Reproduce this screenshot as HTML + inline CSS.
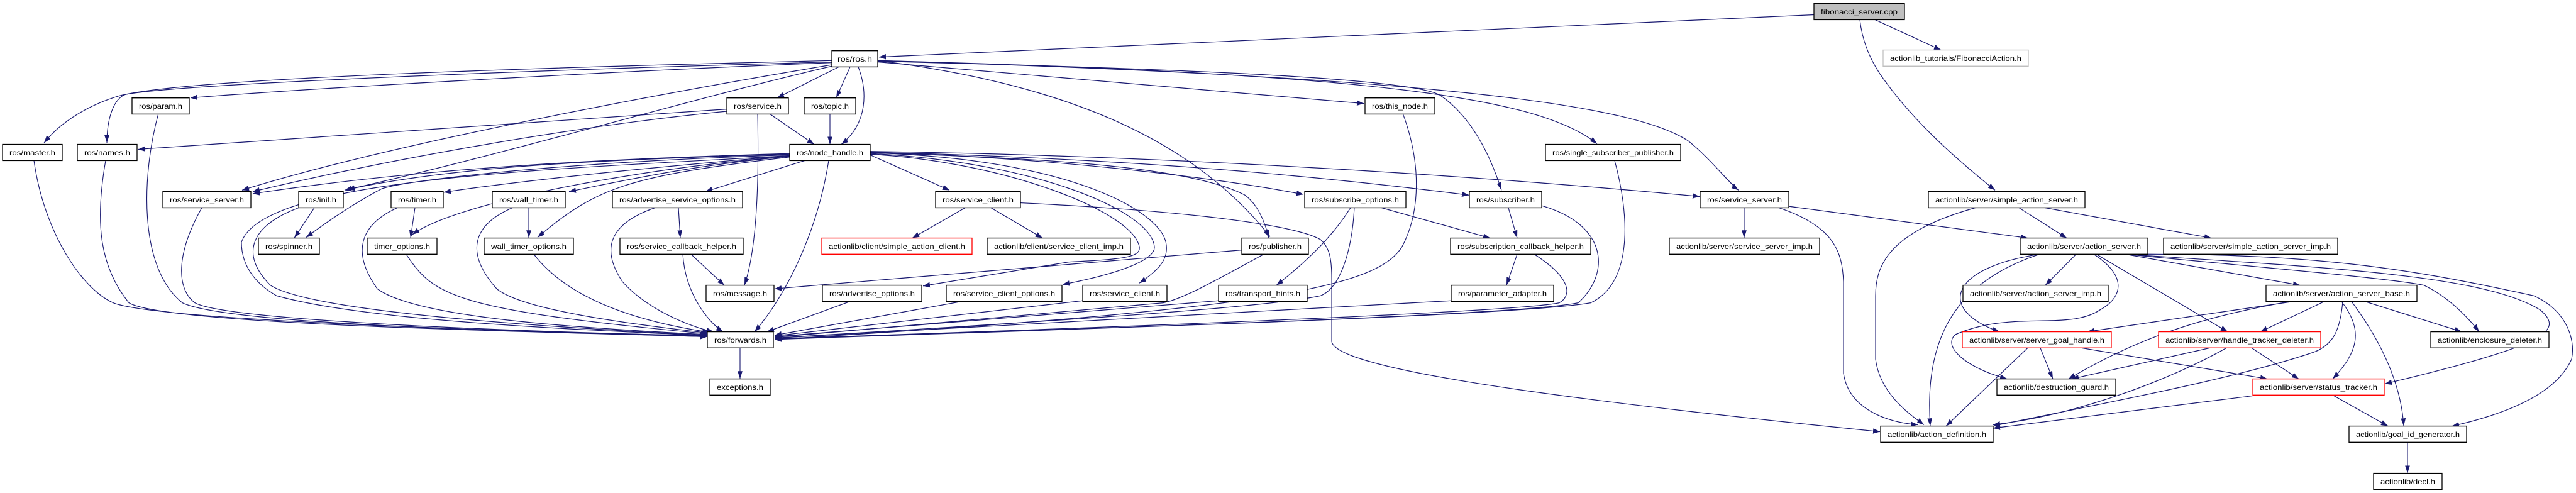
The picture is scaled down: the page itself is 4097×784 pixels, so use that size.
<!DOCTYPE html>
<html><head><meta charset="utf-8"><style>
html,body{margin:0;padding:0;background:#fff;width:4097px;height:784px;overflow:hidden}
svg{display:block}
text{font-family:"Liberation Sans",sans-serif;font-size:12px;fill:#000;text-anchor:middle}
</style></head><body>
<svg width="4097" height="784" viewBox="0 0 4097 784" xmlns="http://www.w3.org/2000/svg">
<defs>
<marker id="a" viewBox="0 0 10 7" refX="10" refY="3.5" markerWidth="11" markerHeight="8" markerUnits="userSpaceOnUse" orient="auto"><path d="M0,0L10,3.5L0,7z" fill="#191970"/></marker>
</defs>
<g transform="scale(1,1.12)">
<g fill="none" stroke="#191970" stroke-width="1.1" marker-end="url(#a)" vector-effect="non-scaling-stroke">
<!-- fib -->
<path d="M2885,21L1398,81"/>
<path d="M2982,28L3087,71"/>
<path d="M2958,28C2962,60 2975,85 2990,105C3040,170 3110,225 3173,270"/>
<!-- ros.h -->
<path d="M1323,86C900,95 300,110 190,136C130,152 90,180 70,203"/>
<path d="M1323,88C900,98 300,118 200,134C180,140 170,170 170,203"/>
<path d="M1323,89C1000,100 500,125 303,139"/>
<path d="M1334,95L1236,139"/>
<path d="M1352,95L1330,139"/>
<path d="M1365,95C1380,130 1380,175 1338,205"/>
<path d="M1323,92C1000,140 600,210 385,270"/>
<path d="M1323,94C1100,140 800,220 553,269"/>
<path d="M1396,86C1700,120 1900,200 2020,336"/>
<path d="M1396,88L2169,147"/>
<path d="M1396,87C2000,100 2250,115 2290,135C2340,165 2370,220 2388,270"/>
<path d="M1396,86C2200,105 2450,140 2540,204"/>
<path d="M1396,86C2300,110 2600,150 2685,200C2720,225 2750,260 2765,270"/>
<!-- service.h, topic -->
<path d="M1156,155L220,212"/>
<path d="M1156,158C900,180 600,230 402,272"/>
<path d="M1223,161L1295,205"/>
<path d="M1205,161C1207,250 1205,350 1184,405"/>
<path d="M1320,161L1320,205"/>
<!-- node_handle left -->
<path d="M1256,218C1000,225 700,235 402,275"/>
<path d="M1256,219C900,228 700,240 548,270"/>
<path d="M1256,220C900,230 650,255 607,268C560,290 520,315 487,337"/>
<path d="M1256,221C1000,240 800,260 706,273"/>
<path d="M1256,222C1100,235 1000,255 905,272"/>
<path d="M1256,222C1000,240 720,290 656,333"/>
<path d="M1256,223C1000,250 950,265 855,337"/>
<path d="M1280,228L1122,272"/>
<path d="M1318,228C1300,330 1250,420 1200,471"/>
<path d="M1256,221C900,240 420,250 384,344C384,380 410,405 440,420C600,460 1000,470 1125,477" marker-end=""/>
<!-- node_handle right -->
<path d="M1384,220L1510,270"/>
<path d="M1384,219C1600,230 1800,300 1812,350C1815,365 1790,368 1700,372L1468,406"/>
<path d="M1384,218C1650,230 1830,300 1836,350C1838,365 1800,385 1690,404"/>
<path d="M1384,217C1700,225 1850,300 1855,348C1858,370 1840,385 1812,402"/>
<path d="M1384,217C1700,225 1900,240 1980,277C2000,290 2012,315 2018,338"/>
<path d="M1384,216C1700,225 1950,255 2073,276"/>
<path d="M1384,216C1800,225 2100,250 2336,277"/>
<path d="M1384,215C1800,220 2300,245 2703,279"/>
<!-- left to forwards -->
<path d="M54,228C70,330 130,410 180,430C250,455 800,470 1125,478"/>
<path d="M168,228C150,320 160,380 205,430C260,460 800,470 1125,478"/>
<path d="M252,161C225,250 220,380 290,430C360,460 800,470 1125,477"/>
<path d="M321,295C280,360 280,410 310,430C360,455 800,470 1125,477"/>
<path d="M475,295C400,320 380,360 430,405C500,445 900,466 1125,476"/>
<path d="M500,295L468,338"/>
<path d="M660,295L653,338"/>
<path d="M632,295C570,320 560,360 600,410C660,450 900,465 1126,475"/>
<path d="M646,361C690,420 720,440 1126,474"/>
<path d="M841,295L841,338"/>
<path d="M815,295C750,320 740,360 790,410C830,440 1000,460 1128,473"/>
<path d="M849,361C900,420 1000,455 1130,472"/>
<path d="M1079,295L1082,338"/>
<path d="M1042,295C960,320 960,360 990,400C1030,440 1100,465 1135,471"/>
<path d="M1099,361L1152,405"/>
<path d="M1086,361C1090,420 1130,460 1150,471"/>
<path d="M1177,494L1177,538"/>
<!-- service_client.h -->
<path d="M1535,295L1451,338"/>
<path d="M1576,295L1658,338"/>
<path d="M1623,288C1900,300 2060,320 2100,340C2120,355 2118,380 2118,420L2118,485C2125,520 2400,560 2990,613"/>
<!-- right side to forwards -->
<path d="M1352,428L1220,471"/>
<path d="M1530,428L1232,476"/>
<path d="M1722,427L1232,477"/>
<path d="M1938,427L1232,478"/>
<path d="M2010,361C1930,400 1880,425 1850,430L1232,479"/>
<path d="M1975,355L1232,410"/>
<path d="M2148,295C2120,335 2080,370 2030,405"/>
<path d="M2154,295C2150,360 2130,410 2100,420C2000,440 1500,465 1232,480"/>
<path d="M2197,295L2370,338"/>
<path d="M2399,295L2413,338"/>
<path d="M2452,292C2560,320 2560,390 2510,430C2400,450 1600,470 1232,481"/>
<path d="M2413,361L2396,405"/>
<path d="M2440,361C2500,395 2500,420 2480,430C2400,445 1600,470 1232,481"/>
<path d="M2308,427L1232,480"/>
<path d="M2231,161C2260,230 2260,300 2230,350C2190,410 2000,440 1232,482"/>
<path d="M2568,228C2590,300 2600,400 2530,430C2400,450 1600,470 1232,482"/>
<!-- service_server right -->
<path d="M2774,295L2774,338"/>
<path d="M2822,293C2920,320 2930,360 2932,400L2932,530C2940,580 3000,600 3050,603"/>
<path d="M2845,293L3225,338"/>
<!-- simple_action_server -->
<path d="M3142,295C3000,330 2983,380 2983,420L2983,510C2990,560 3040,590 3060,603"/>
<path d="M3211,295L3287,338"/>
<path d="M3252,295L3517,338"/>
<!-- action_server -->
<path d="M3302,361L3253,405"/>
<path d="M3244,361C3100,380 3080,440 3180,471"/>
<path d="M3244,361C3110,400 3060,480 3070,605"/>
<path d="M3330,361C3380,390 3380,420 3340,440C3290,470 3200,440 3110,475C3090,490 3120,520 3192,538"/>
<path d="M3334,361L3543,471"/>
<path d="M3380,361L3658,405"/>
<path d="M3380,361C3600,380 3800,395 3855,405C3890,420 3920,445 3943,471"/>
<path d="M3380,361C3700,380 3950,390 4040,440C4080,470 4050,490 3793,545"/>
<path d="M3400,361C3700,360 3850,385 4030,420C4080,440 4097,480 4090,510C4060,570 3950,595 3900,605"/>
<!-- action_server_base -->
<path d="M3697,428L3595,471"/>
<path d="M3761,428L3915,471"/>
<path d="M3724,428C3760,470 3750,500 3710,538"/>
<path d="M3740,428C3800,500 3820,560 3823,605"/>
<path d="M3648,428L3320,471"/>
<path d="M3643,428C3500,450 3400,480 3290,538"/>
<path d="M3726,428C3722,470 3710,490 3680,500C3550,540 3300,580 3170,605"/>
<!-- goal handle etc -->
<path d="M3245,494L3265,538"/>
<path d="M3225,494L3095,605"/>
<path d="M3310,494L3606,538"/>
<path d="M3515,494L3295,538"/>
<path d="M3541,494C3450,540 3300,590 3170,603"/>
<path d="M3581,494L3656,538"/>
<path d="M3592,561L3170,608"/>
<path d="M3710,561L3798,605"/>
<path d="M3829,628L3829,672"/>
</g>
<g stroke-width="1.3" fill="#fff" stroke="#000" vector-effect="non-scaling-stroke">
<rect x="2885" y="5" width="144" height="23" fill="#bfbfbf"/>
<rect x="1323" y="72" width="73" height="23"/>
<rect x="2995" y="71" width="231" height="23" stroke="#bfbfbf"/>
<rect x="210" y="139" width="91" height="23"/>
<rect x="1156" y="139" width="98" height="23"/>
<rect x="1279" y="139" width="82" height="23"/>
<rect x="2171" y="139" width="111" height="23"/>
<rect x="4" y="205" width="95" height="23"/>
<rect x="123" y="205" width="95" height="23"/>
<rect x="1256" y="205" width="128" height="23"/>
<rect x="2458" y="205" width="215" height="23"/>
<rect x="259" y="272" width="140" height="23"/>
<rect x="475" y="272" width="71" height="23"/>
<rect x="622" y="272" width="83" height="23"/>
<rect x="783" y="272" width="116" height="23"/>
<rect x="974" y="272" width="207" height="23"/>
<rect x="1488" y="272" width="135" height="23"/>
<rect x="2075" y="272" width="161" height="23"/>
<rect x="2337" y="272" width="115" height="23"/>
<rect x="2704" y="272" width="141" height="23"/>
<rect x="3067" y="272" width="249" height="23"/>
<rect x="411" y="338" width="97" height="23"/>
<rect x="584" y="338" width="111" height="23"/>
<rect x="770" y="338" width="142" height="23"/>
<rect x="986" y="338" width="196" height="23"/>
<rect x="1307" y="338" width="239" height="23" stroke="#f00"/>
<rect x="1570" y="338" width="228" height="23"/>
<rect x="1975" y="338" width="106" height="23"/>
<rect x="2307" y="338" width="223" height="23"/>
<rect x="2655" y="338" width="239" height="23"/>
<rect x="3213" y="338" width="203" height="23"/>
<rect x="3441" y="338" width="277" height="23"/>
<rect x="1123" y="405" width="108" height="23"/>
<rect x="1308" y="405" width="158" height="23"/>
<rect x="1505" y="405" width="184" height="23"/>
<rect x="1722" y="405" width="134" height="23"/>
<rect x="1938" y="405" width="141" height="23"/>
<rect x="2308" y="405" width="163" height="23"/>
<rect x="3122" y="405" width="231" height="23"/>
<rect x="3604" y="405" width="240" height="23"/>
<rect x="1125" y="471" width="105" height="23"/>
<rect x="3121" y="471" width="237" height="23" stroke="#f00"/>
<rect x="3433" y="471" width="258" height="23" stroke="#f00"/>
<rect x="3866" y="471" width="188" height="23"/>
<rect x="1129" y="538" width="96" height="23"/>
<rect x="3176" y="538" width="189" height="23"/>
<rect x="3583" y="538" width="209" height="23" stroke="#f00"/>
<rect x="2991" y="605" width="179" height="23"/>
<rect x="3736" y="605" width="187" height="23"/>
<rect x="3775" y="672" width="109" height="23"/>
</g>
</g>
<g lengthAdjust="spacingAndGlyphs">
<text x="2957" y="23" textLength="122" lengthAdjust="spacingAndGlyphs">fibonacci_server.cpp</text>
<text x="1359.5" y="98" textLength="55" lengthAdjust="spacingAndGlyphs">ros/ros.h</text>
<text x="3110.5" y="97" textLength="209" lengthAdjust="spacingAndGlyphs">actionlib_tutorials/FibonacciAction.h</text>
<text x="255.5" y="173" textLength="69" lengthAdjust="spacingAndGlyphs">ros/param.h</text>
<text x="1205" y="173" textLength="76" lengthAdjust="spacingAndGlyphs">ros/service.h</text>
<text x="1320" y="173" textLength="60" lengthAdjust="spacingAndGlyphs">ros/topic.h</text>
<text x="2226.5" y="173" textLength="89" lengthAdjust="spacingAndGlyphs">ros/this_node.h</text>
<text x="51.5" y="247" textLength="73" lengthAdjust="spacingAndGlyphs">ros/master.h</text>
<text x="170.5" y="247" textLength="73" lengthAdjust="spacingAndGlyphs">ros/names.h</text>
<text x="1320" y="247" textLength="106" lengthAdjust="spacingAndGlyphs">ros/node_handle.h</text>
<text x="2565.5" y="247" textLength="193" lengthAdjust="spacingAndGlyphs">ros/single_subscriber_publisher.h</text>
<text x="329" y="322" textLength="118" lengthAdjust="spacingAndGlyphs">ros/service_server.h</text>
<text x="510.5" y="322" textLength="49" lengthAdjust="spacingAndGlyphs">ros/init.h</text>
<text x="663.5" y="322" textLength="61" lengthAdjust="spacingAndGlyphs">ros/timer.h</text>
<text x="841" y="322" textLength="94" lengthAdjust="spacingAndGlyphs">ros/wall_timer.h</text>
<text x="1077.5" y="322" textLength="185" lengthAdjust="spacingAndGlyphs">ros/advertise_service_options.h</text>
<text x="1555.5" y="322" textLength="113" lengthAdjust="spacingAndGlyphs">ros/service_client.h</text>
<text x="2155.5" y="322" textLength="139" lengthAdjust="spacingAndGlyphs">ros/subscribe_options.h</text>
<text x="2394.5" y="322" textLength="93" lengthAdjust="spacingAndGlyphs">ros/subscriber.h</text>
<text x="2774.5" y="322" textLength="119" lengthAdjust="spacingAndGlyphs">ros/service_server.h</text>
<text x="3191.5" y="322" textLength="227" lengthAdjust="spacingAndGlyphs">actionlib/server/simple_action_server.h</text>
<text x="459.5" y="396" textLength="75" lengthAdjust="spacingAndGlyphs">ros/spinner.h</text>
<text x="639.5" y="396" textLength="89" lengthAdjust="spacingAndGlyphs">timer_options.h</text>
<text x="841" y="396" textLength="120" lengthAdjust="spacingAndGlyphs">wall_timer_options.h</text>
<text x="1084" y="396" textLength="174" lengthAdjust="spacingAndGlyphs">ros/service_callback_helper.h</text>
<text x="1426.5" y="396" textLength="217" lengthAdjust="spacingAndGlyphs">actionlib/client/simple_action_client.h</text>
<text x="1684" y="396" textLength="206" lengthAdjust="spacingAndGlyphs">actionlib/client/service_client_imp.h</text>
<text x="2028" y="396" textLength="84" lengthAdjust="spacingAndGlyphs">ros/publisher.h</text>
<text x="2418.5" y="396" textLength="201" lengthAdjust="spacingAndGlyphs">ros/subscription_callback_helper.h</text>
<text x="2774.5" y="396" textLength="217" lengthAdjust="spacingAndGlyphs">actionlib/server/service_server_imp.h</text>
<text x="3314.5" y="396" textLength="181" lengthAdjust="spacingAndGlyphs">actionlib/server/action_server.h</text>
<text x="3579.5" y="396" textLength="255" lengthAdjust="spacingAndGlyphs">actionlib/server/simple_action_server_imp.h</text>
<text x="1177" y="471" textLength="86" lengthAdjust="spacingAndGlyphs">ros/message.h</text>
<text x="1387" y="471" textLength="136" lengthAdjust="spacingAndGlyphs">ros/advertise_options.h</text>
<text x="1597" y="471" textLength="162" lengthAdjust="spacingAndGlyphs">ros/service_client_options.h</text>
<text x="1789" y="471" textLength="112" lengthAdjust="spacingAndGlyphs">ros/service_client.h</text>
<text x="2008.5" y="471" textLength="119" lengthAdjust="spacingAndGlyphs">ros/transport_hints.h</text>
<text x="2389.5" y="471" textLength="141" lengthAdjust="spacingAndGlyphs">ros/parameter_adapter.h</text>
<text x="3237.5" y="471" textLength="209" lengthAdjust="spacingAndGlyphs">actionlib/server/action_server_imp.h</text>
<text x="3724" y="471" textLength="218" lengthAdjust="spacingAndGlyphs">actionlib/server/action_server_base.h</text>
<text x="1177.5" y="545" textLength="83" lengthAdjust="spacingAndGlyphs">ros/forwards.h</text>
<text x="3239.5" y="545" textLength="215" lengthAdjust="spacingAndGlyphs">actionlib/server/server_goal_handle.h</text>
<text x="3562" y="545" textLength="236" lengthAdjust="spacingAndGlyphs">actionlib/server/handle_tracker_deleter.h</text>
<text x="3960" y="545" textLength="166" lengthAdjust="spacingAndGlyphs">actionlib/enclosure_deleter.h</text>
<text x="1177" y="620" textLength="74" lengthAdjust="spacingAndGlyphs">exceptions.h</text>
<text x="3270.5" y="620" textLength="167" lengthAdjust="spacingAndGlyphs">actionlib/destruction_guard.h</text>
<text x="3687.5" y="620" textLength="187" lengthAdjust="spacingAndGlyphs">actionlib/server/status_tracker.h</text>
<text x="3080.5" y="695" textLength="157" lengthAdjust="spacingAndGlyphs">actionlib/action_definition.h</text>
<text x="3829.5" y="695" textLength="165" lengthAdjust="spacingAndGlyphs">actionlib/goal_id_generator.h</text>
<text x="3829.5" y="770" textLength="87" lengthAdjust="spacingAndGlyphs">actionlib/decl.h</text>
</g>
</svg>
</body></html>
